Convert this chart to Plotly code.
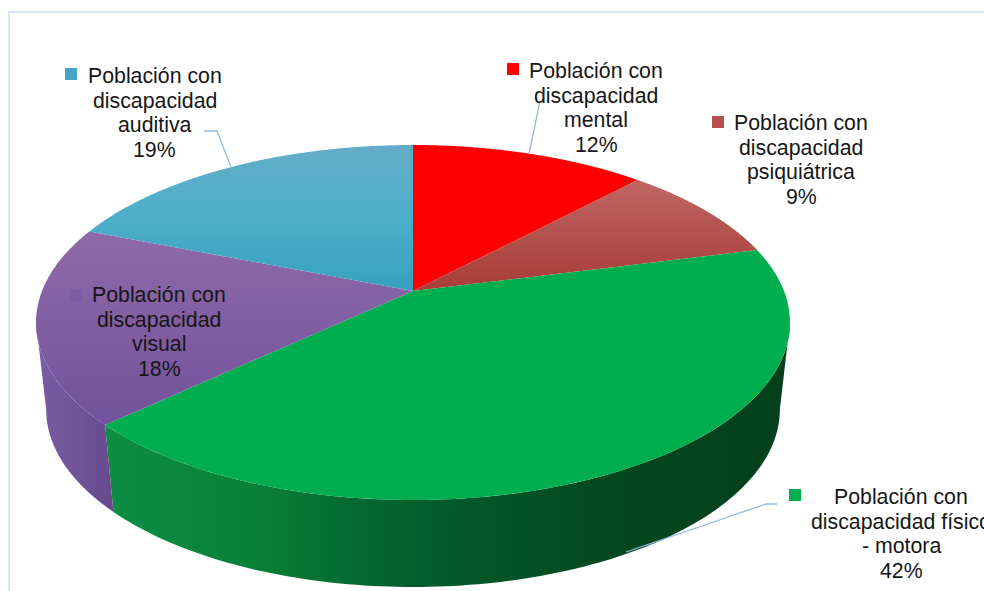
import numpy as np
import plotly.graph_objects as go

# slices clockwise from 12 o'clock
categories = ['mental', 'psiquiátrica', 'físico - motora', 'visual', 'auditiva']
shares = [12, 9, 42, 18, 19]

label_lines = [
    ['Población con', 'discapacidad', 'mental', '12%'],
    ['Población con', 'discapacidad', 'psiquiátrica', '9%'],
    ['Población con', 'discapacidad físico', '- motora', '42%'],
    ['Población con', 'discapacidad', 'visual', '18%'],
    ['Población con', 'discapacidad', 'auditiva', '19%'],
]
label_x = [596, 801, 901, 159, 154.5]
label_y = [71, 123, 497, 295, 76]
key_x = [513, 718, 795, 76, 71]
key_y = [69, 122, 495, 295, 74]
key_colors = ['#ff0000', '#b8504c', '#00ae50', '#7e5c9f', '#45a6c4']

# plotly runs the vertical gradient bottom to top on this flipped axis
top_colors = [
    [[0, '#fb0000'], [1, '#fb0000']],
    [[0, '#a83c38'], [1, '#bf6662']],
    [[0, '#00ae50'], [1, '#00ae50']],
    [[0, '#72529b'], [1, '#8f6aaa']],
    [[0, '#37a0bf'], [0.5, '#4dafca'], [1, '#64acc7']],
]
wall_colors = [
    None,
    None,
    [[0, '#0b8e43'], [0.22, '#098038'], [0.36, '#056b31'], [0.46, '#045e2b'],
     [0.72, '#04491f'], [1, '#033f1c']],
    [[0, '#7b5da4'], [1, '#664a8e']],
    None,
]

# perspective ellipse of the pie top and of its base
CX, TOP_Y, BASE_Y = 413, 291, 378
TOP_A, BASE_A, B, K = 371, 361, 171.9, 0.1775


def project(t, a, y0):
    d = 1 + K * np.cos(t)
    return CX + a * np.sin(t) / d, y0 - B * np.cos(t) / d


fig = go.Figure()

edges = np.radians(np.cumsum([0] + shares) * 3.6)

# the wall only shows between the two widest points of the ellipse
wall_from = np.arccos(-K)
wall_to = 2 * np.pi - wall_from

for i in range(len(shares)):
    t0, t1 = max(edges[i], wall_from), min(edges[i + 1], wall_to)
    if t1 <= t0:
        continue
    t = np.linspace(t0, t1, 120)
    x1, y1 = project(t, TOP_A, TOP_Y)
    x2, y2 = project(t[::-1], BASE_A, BASE_Y)
    fig.add_trace(go.Scatter(
        x=np.r_[x1, x2], y=np.r_[y1, y2],
        mode='none', fill='toself',
        fillgradient=dict(type='horizontal', colorscale=wall_colors[i]),
        hoverinfo='skip',
    ))

for i in range(len(shares)):
    t = np.linspace(edges[i], edges[i + 1], 120)
    x1, y1 = project(t, TOP_A, TOP_Y)
    fig.add_trace(go.Scatter(
        x=np.r_[CX, x1, CX], y=np.r_[TOP_Y, y1, TOP_Y],
        mode='none', fill='toself',
        fillgradient=dict(type='vertical', colorscale=top_colors[i]),
        name=categories[i], hoverinfo='skip',
    ))

# leader lines
leaders = [
    ([204, 217, 231], [131, 131, 167]),
    ([540, 529], [101, 154]),
    ([626, 766, 777], [552, 504, 504]),
]
for lx, ly in leaders:
    fig.add_trace(go.Scatter(x=lx, y=ly, mode='lines', hoverinfo='skip',
                             line=dict(color='#94b8e6', width=1.3)))

# legend keys beside the labels
fig.add_trace(go.Scatter(
    x=key_x, y=key_y, mode='markers', hoverinfo='skip',
    marker=dict(symbol='square', size=12, color=key_colors),
))

for i, lines in enumerate(label_lines):
    for j, line in enumerate(lines):
        fig.add_annotation(
            x=label_x[i], y=label_y[i] + j * 24.5, text=line,
            showarrow=False, xanchor='center', yanchor='middle',
            font=dict(family='Liberation Sans', size=21.3, color='#161616'),
        )

# chart frame, right and bottom sides fall outside the picture
fig.add_shape(type='rect', x0=9, y0=12, x1=1100, y1=700,
              line=dict(color='#d6e4f6', width=2), layer='below')

fig.update_layout(
    width=984, height=591,
    margin=dict(l=0, r=0, t=0, b=0),
    paper_bgcolor='white', plot_bgcolor='white',
    showlegend=False,
    xaxis=dict(range=[0, 984], visible=False, fixedrange=True),
    yaxis=dict(range=[591, 0], visible=False, fixedrange=True),
)

fig.write_html("out.html", config=dict(displayModeBar=False),
               post_script="document.body.style.margin = '0';")
